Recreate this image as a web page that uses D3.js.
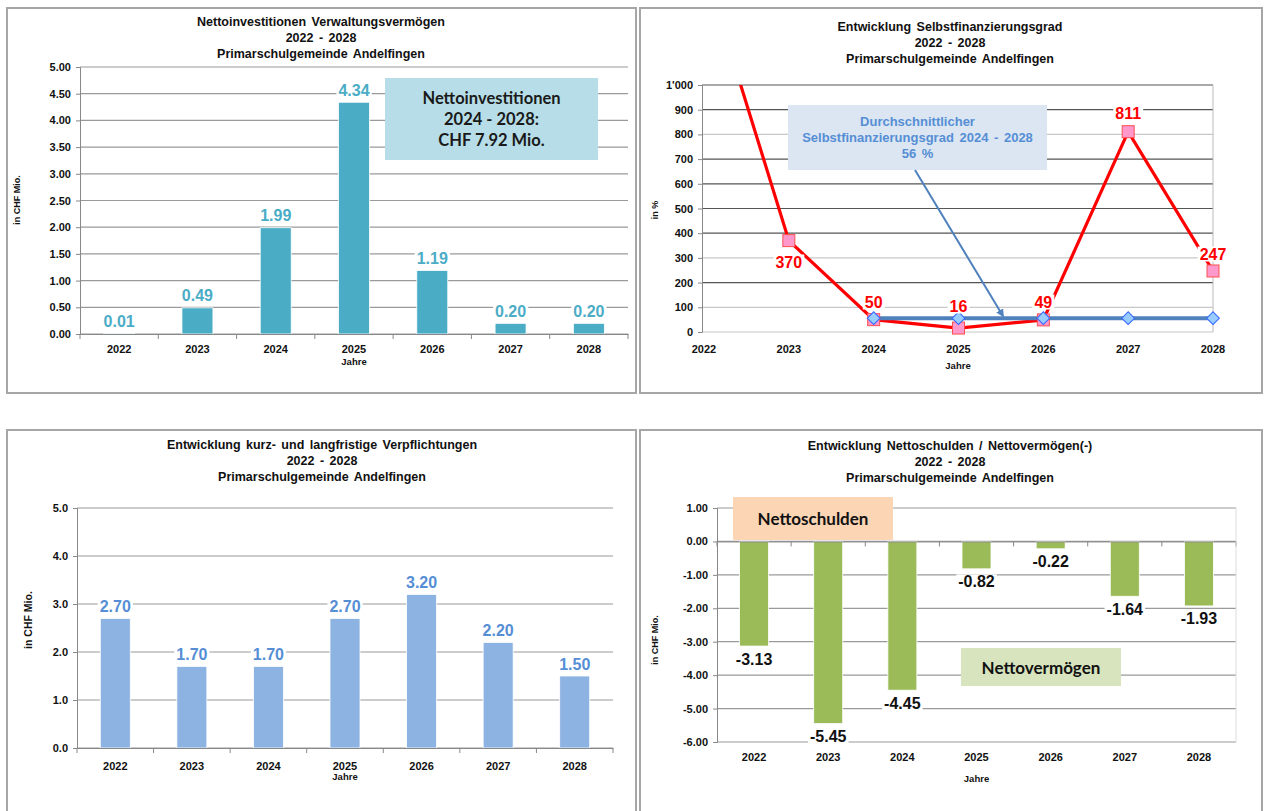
<!DOCTYPE html>
<html>
<head>
<meta charset="utf-8">
<script src="https://cdn.jsdelivr.net/npm/d3@7"></script>
<style>
body { margin: 0; background: #fff; }
svg text { font-family: "Liberation Sans", Arial, sans-serif; font-weight: bold; }
.box text { font-family: Lato, "Open Sans", sans-serif; }
.box.arial text { font-family: "Liberation Sans", Arial, sans-serif; }
</style>
</head>
<body>
<script>
// data
years = ["2022", "2023", "2024", "2025", "2026", "2027", "2028"]

nettoInvest = [0.01, 0.49, 1.99, 4.34, 1.19, 0.20, 0.20]
investTicks = [0, 0.5, 1, 1.5, 2, 2.5, 3, 3.5, 4, 4.5, 5]

selbstFin = [1480, 370, 50, 16, 49, 811, 247]
avgYears = ["2024", "2025", "2026", "2027", "2028"]
avgSelbst = [56, 56, 56, 56, 56]
selbstTicks = [0, 100, 200, 300, 400, 500, 600, 700, 800, 900, 1000]

verpfl = [2.70, 1.70, 1.70, 2.70, 3.20, 2.20, 1.50]
verpflTicks = [0, 1, 2, 3, 4, 5]

nettoSchuld = [-3.13, -5.45, -4.45, -0.82, -0.22, -1.64, -1.93]
schuldTicks = [1, 0, -1, -2, -3, -4, -5, -6]

// plain hyphen minus like the original
fmt2 = v => v.toFixed(2)
fmt1 = v => v.toFixed(1)

svg = d3.select("body").append("svg").attr("width", 1264).attr("height", 811)

// panel frames
frames = [[7, 8, 629, 385], [640, 8, 622, 385], [7, 430, 629, 390], [640, 430, 622, 390]]
svg.selectAll("rect.frame").data(frames).enter().append("rect").classed("frame", true)
    .attr("x", d => d[0]).attr("y", d => d[1]).attr("width", d => d[2]).attr("height", d => d[3])
    .attr("fill", "#fff").attr("stroke", "#a6a6a6").attr("stroke-width", 2)

function titles(cx, y0, lines) {
    svg.selectAll(null).data(lines).enter().append("text")
        .attr("x", cx).attr("y", (d, i) => y0 + i * 16)
        .attr("text-anchor", "middle").attr("font-size", 12.5).attr("fill", "#111")
        .attr("word-spacing", 2).text(d => d)
}

function yTitle(x, y, txt, size) {
    svg.append("text").attr("transform", "translate(" + x + "," + y + ") rotate(-90)")
        .attr("text-anchor", "middle").attr("font-size", size).attr("fill", "#111").text(txt)
}

function labelWithBg(g, x, y, txt, color, size) {
    var t = g.append("text").attr("x", x).attr("y", y).attr("text-anchor", "middle")
        .attr("dominant-baseline", "central").attr("font-size", size).attr("fill", color).text(txt)
    var bb = t.node().getBBox()
    g.append("rect").attr("x", bb.x - 2).attr("y", bb.y + 1).attr("width", bb.width + 4).attr("height", bb.height - 2).attr("fill", "#fff")
    t.raise()
}

function box(x, y, w, h, fill, lines, color, size, lh, cls) {
    var g = svg.append("g").attr("class", "box " + (cls || ""))
    g.append("rect").attr("x", x).attr("y", y).attr("width", w).attr("height", h).attr("fill", fill)
    g.selectAll("text").data(lines).enter().append("text")
        .attr("x", x + w / 2).attr("y", (d, i) => y + h / 2 + (i - (lines.length - 1) / 2) * lh)
        .attr("text-anchor", "middle").attr("dominant-baseline", "central")
        .attr("font-size", size).attr("fill", color).attr("word-spacing", cls ? 2 : 0).text(d => d)
    return g
}

function barPanel(opt) {
    var x = d3.scaleBand().domain(years).range([opt.x0, opt.x1])
    var y = d3.scaleLinear().domain(opt.domain).range([opt.yb, opt.yt])
    var g = svg.append("g")
    // grid
    g.selectAll("line.grid").data(opt.ticks).enter().append("line")
        .attr("x1", opt.x0).attr("x2", opt.x1).attr("y1", d => y(d)).attr("y2", d => y(d))
        .attr("stroke", "#9a9a9a").attr("stroke-width", 1.2)
    var yAxis = g.append("g").attr("transform", "translate(" + opt.x0 + ",0)")
        .call(d3.axisLeft(y).tickValues(opt.ticks).tickFormat(opt.fmt).tickSize(4).tickPadding(5))
    yAxis.select(".domain").attr("stroke", "#888")
    yAxis.selectAll(".tick line").attr("stroke", "#888")
    yAxis.selectAll("text").attr("font-size", 11).attr("fill", "#111").attr("font-family", null)
    var base = y(0)
    g.selectAll("rect.bar").data(opt.values).enter().append("rect")
        .attr("x", (d, i) => x(years[i]) + x.bandwidth() / 2 - opt.bw / 2)
        .attr("width", opt.bw)
        .attr("y", d => Math.min(y(d), base))
        .attr("height", d => Math.max(Math.abs(y(d) - base), 1))
        .attr("fill", opt.color).attr("stroke", "#fff").attr("stroke-width", 0.8)
    // x axis line + ticks
    var xAxis = g.append("g").attr("transform", "translate(0," + base + ")")
        .call(d3.axisBottom(x).tickSize(0).tickFormat(""))
    xAxis.select(".domain").attr("stroke", "#888")
    g.selectAll("line.xt").data(d3.range(years.length + 1)).enter().append("line")
        .attr("x1", i => opt.x0 + i * x.step()).attr("x2", i => opt.x0 + i * x.step())
        .attr("y1", base).attr("y2", base + 5).attr("stroke", "#888")
    g.selectAll("text.xl").data(years).enter().append("text")
        .attr("x", d => x(d) + x.bandwidth() / 2).attr("y", opt.xly)
        .attr("text-anchor", "middle").attr("font-size", 11).attr("fill", "#111").text(d => d)
    g.append("text").attr("x", (opt.x0 + opt.x1) / 2).attr("y", opt.jy)
        .attr("text-anchor", "middle").attr("font-size", 9.5).attr("fill", "#111").text("Jahre")
    opt.values.forEach(function(v, i) {
        var ly = v >= 0 ? y(v) - 12 : y(v) + 13
        labelWithBg(g, x(years[i]) + x.bandwidth() / 2, ly, opt.lfmt(v), opt.lcolor, 16)
    })
}

// panel 1
titles(321, 26, ["Nettoinvestitionen  Verwaltungsvermögen", "2022 - 2028", "Primarschulgemeinde  Andelfingen"])
barPanel({ x0: 80, x1: 628, yb: 334, yt: 67, domain: [0, 5], ticks: investTicks, fmt: fmt2,
    values: nettoInvest, bw: 31, color: "#4bacc6", lcolor: "#4bacc6", lfmt: fmt2, xly: 353, jy: 365 })
yTitle(20, 200, "in CHF Mio.", 9)
box(385, 78, 213, 82, "#b7dee8", ["Nettoinvestitionen", "2024 - 2028:", "CHF 7.92 Mio."], "#1a1a1a", 16.5, 21)

// panel 2 (line)
titles(950, 31, ["Entwicklung  Selbstfinanzierungsgrad", "2022 - 2028", "Primarschulgemeinde  Andelfingen"])
x2 = d3.scaleLinear().domain([2022, 2028]).range([704, 1213])
y2 = d3.scaleLinear().domain([0, 1000]).range([332, 85])
p2 = svg.append("g")
p2.selectAll("line.grid").data(selbstTicks).enter().append("line")
    .attr("x1", 702).attr("x2", 1213).attr("y1", d => y2(d)).attr("y2", d => y2(d))
    .attr("stroke", (d, i) => (d == 0 || d == 100 || d == 300 || d == 800) ? "#c8c8c8" : "#555").attr("stroke-width", 1.2)
p2.append("line").attr("x1", 1213).attr("x2", 1213).attr("y1", 85).attr("y2", 332).attr("stroke", "#bbb")
ya2 = p2.append("g").attr("transform", "translate(702,0)")
    .call(d3.axisLeft(y2).tickValues(selbstTicks).tickFormat(d => d == 1000 ? "1'000" : d).tickSize(4).tickPadding(5))
ya2.select(".domain").attr("stroke", "#888")
ya2.selectAll(".tick line").attr("stroke", "#888")
ya2.selectAll("text").attr("font-size", 11).attr("fill", "#111").attr("font-family", null)
p2.selectAll("text.xl").data(years).enter().append("text")
    .attr("x", d => x2(+d)).attr("y", 353).attr("text-anchor", "middle").attr("font-size", 11).attr("fill", "#111").text(d => d)
p2.append("text").attr("x", 958).attr("y", 369).attr("text-anchor", "middle").attr("font-size", 9.5).attr("fill", "#111").text("Jahre")
yTitle(658, 210, "in %", 9)

svg.append("clipPath").attr("id", "clip2").append("rect").attr("x", 702).attr("y", 85).attr("width", 520).attr("height", 260)
redLine = d3.line().x((d, i) => x2(+years[i])).y(d => y2(d))
p2.append("path").datum(selbstFin).attr("d", redLine).attr("clip-path", "url(#clip2)")
    .attr("fill", "none").attr("stroke", "#ff0000").attr("stroke-width", 3.2)
blueLine = d3.line().x((d, i) => x2(+avgYears[i])).y(d => y2(d))
p2.append("path").datum(avgSelbst).attr("d", blueLine)
    .attr("fill", "none").attr("stroke", "#4f81bd").attr("stroke-width", 4)
p2.selectAll("rect.mk").data(selbstFin.slice(1)).enter().append("rect")
    .attr("x", (d, i) => x2(+years[i + 1]) - 6).attr("y", d => y2(d) - 6).attr("width", 12).attr("height", 12)
    .attr("fill", "#ff99cc").attr("stroke", "#ff5050").attr("stroke-width", 1)
p2.selectAll("rect.dia").data(avgSelbst).enter().append("rect")
    .attr("transform", (d, i) => "translate(" + x2(+avgYears[i]) + "," + y2(d) + ") rotate(45)")
    .attr("x", -4.5).attr("y", -4.5).attr("width", 9).attr("height", 9)
    .attr("fill", "#99ccff").attr("stroke", "#3366ff").attr("stroke-width", 1)
// red labels
redOff = [0, 262, 302, 306, 302, 113, 254]
selbstFin.forEach(function(v, i) {
    if (i == 0) return
    labelWithBg(p2, x2(+years[i]), redOff[i], v, "#ff0000", 16)
})
// blue annotation + arrow
box(788, 105, 259, 65, "#dce6f2", ["Durchschnittlicher", "Selbstfinanzierungsgrad  2024 - 2028", "56 %"], "#558ed5", 13, 16, "arial")
svg.append("defs").append("marker").attr("id", "arr").attr("viewBox", "0 0 10 10").attr("refX", 8).attr("refY", 5)
    .attr("markerWidth", 4).attr("markerHeight", 4).attr("orient", "auto")
    .append("path").attr("d", "M0,0 L10,5 L0,10 z").attr("fill", "#4f81bd")
svg.append("line").attr("x1", 915).attr("y1", 170).attr("x2", 1003).attr("y2", 316)
    .attr("stroke", "#4f81bd").attr("stroke-width", 2).attr("marker-end", "url(#arr)")

// panel 3
titles(322, 449, ["Entwicklung  kurz- und langfristige Verpflichtungen", "2022 - 2028", "Primarschulgemeinde  Andelfingen"])
barPanel({ x0: 77, x1: 613, yb: 748, yt: 508, domain: [0, 5], ticks: verpflTicks, fmt: fmt1,
    values: verpfl, bw: 30, color: "#8db3e2", lcolor: "#558ed5", lfmt: fmt2, xly: 770, jy: 780 })
yTitle(32, 620, "in CHF Mio.", 10.5)

// panel 4
titles(950, 450, ["Entwicklung  Nettoschulden  / Nettovermögen(-)", "2022 - 2028", "Primarschulgemeinde  Andelfingen"])
barPanel({ x0: 717, x1: 1236, yb: 742, yt: 508, domain: [-6, 1], ticks: schuldTicks, fmt: fmt2,
    values: nettoSchuld, bw: 29, color: "#9bbb59", lcolor: "#111", lfmt: fmt2, xly: 761, jy: 782 })
svg.append("line").attr("x1", 1236).attr("x2", 1236).attr("y1", 508).attr("y2", 742).attr("stroke", "#ddd")
yTitle(658, 640, "in CHF Mio.", 9)
box(733, 497, 160, 43, "#fcd5b5", ["Nettoschulden"], "#111", 17, 0)
box(961, 648, 160, 38, "#d7e4bd", ["Nettovermögen"], "#111", 17, 0)
</script>
</body>
</html>
